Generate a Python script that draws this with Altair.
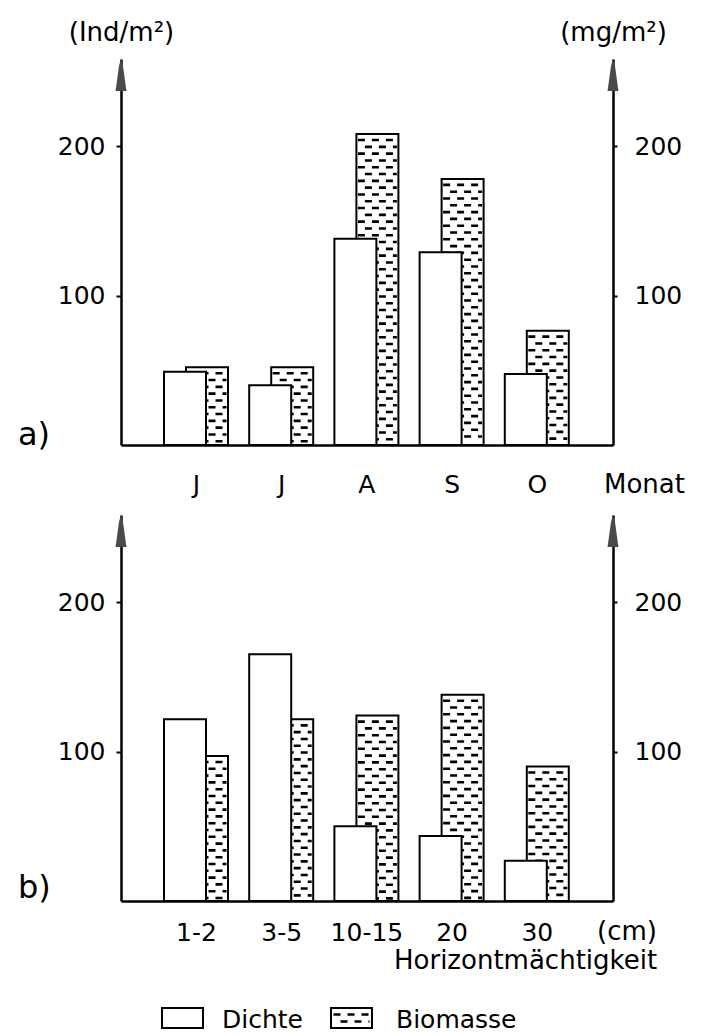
import altair as alt
import pandas as pd

# ---- data -------------------------------------------------------------
# a) by month
monate = ["Juni", "Juli", "August", "September", "Oktober"]
monat_labels = ["J", "J", "A", "S", "O"]
dichte_monat = [49, 40, 138, 129, 47.5]        # Ind/m²
biomasse_monat = [52, 52, 208, 178, 76.5]      # mg/m²

# b) by thickness of the soil horizon
horizonte = ["1-2", "3-5", "10-15", "20", "30"]
dichte_horizont = [121.5, 165, 50, 43.5, 27]
biomasse_horizont = [97, 121.5, 124, 138, 90]

y_ticks = [100, 200]

# ---- layout constants -------------------------------------------------
FONT = "DejaVu Sans"
W, H = 492, 386            # plot area of each panel (px)
Y_MAX = 258.2              # top of the value axis (arrow tip)
PX_Y = H / Y_MAX           # px per value unit
SLOT = 85.2                # px between group centres
FIRST = 75                 # px from left axis to first group centre
X_DOMAIN = [1 - FIRST / SLOT, 1 + (W - FIRST) / SLOT]
BAR_W = 42                 # px
D_SHIFT, B_SHIFT = -11, 11  # centre shift of Dichte / Biomasse bars (px)
ROW_GAP = 6.8              # px between hatch rows
ARROW = "M0,-1L0.12,-0.6L0.34,1L-0.34,1L-0.12,-0.6Z"

ONE = pd.DataFrame({"k": [0]})


def bar_frame(values, shift):
    pos = list(range(1, len(values) + 1))
    return pd.DataFrame({
        "pos": pos,
        "value": values,
        "x1": [p + (shift - BAR_W / 2) / SLOT for p in pos],
        "x2": [p + (shift + BAR_W / 2) / SLOT for p in pos],
    })


def hatch_frame(values):
    rows = []
    for p, v in enumerate(values, start=1):
        top = v * PX_Y
        k = 0
        while 6 + k * ROW_GAP < top - 2:
            depth = 6 + k * ROW_GAP
            rows.append({
                "x1": p + (B_SHIFT - BAR_W / 2 + 1.5) / SLOT,
                "x2": p + (B_SHIFT + BAR_W / 2 - 1.5) / SLOT,
                "y": v - depth / PX_Y,
                "phase": "even" if k % 2 == 0 else "odd",
            })
            k += 1
    return pd.DataFrame(rows)


def text(t, x, y, size=26, align="left"):
    return alt.Chart(ONE).mark_text(
        text=t, font=FONT, fontSize=size, align=align,
        baseline="alphabetic", color="black"
    ).encode(x=alt.value(x), y=alt.value(y))


def panel(labels, dichte, biomasse, label_pad, titles, extras):
    xscale = alt.Scale(domain=X_DOMAIN, nice=False, zero=False)
    yscale = alt.Scale(domain=[0, Y_MAX], nice=False)
    label_expr = "[" + ",".join("'%s'" % l for l in labels) + "][datum.value - 1]"
    xaxis = alt.Axis(values=list(range(1, len(labels) + 1)), labelExpr=label_expr,
                     ticks=False, tickSize=0, labelPadding=label_pad,
                     labelBaseline="alphabetic", labelFontSize=25, title=None,
                     labelFlush=False, labelOverlap=False)

    def yaxis(orient, title):
        kw = dict(orient=orient, values=y_ticks, labelFontSize=25,
                  tickSize=5 if orient == "left" else 4,
                  labelPadding=11 if orient == "left" else 17)
        if title:
            kw.update(title=title, titleAngle=0, titleAlign="center",
                      titleBaseline="alphabetic", titleX=0, titleY=-19,
                      titleFontSize=26, titleFontWeight="normal")
        else:
            kw.update(title=None)
        return alt.Axis(**kw)

    bio = alt.Chart(bar_frame(biomasse, B_SHIFT)).mark_bar(
        fill="white", stroke="black", strokeWidth=2
    ).encode(
        x=alt.X("x1:Q", scale=xscale, axis=xaxis), x2="x2:Q",
        y=alt.Y("value:Q", scale=yscale, axis=yaxis("right", titles[1])),
        y2=alt.datum(0),
    )
    hatch = alt.Chart(hatch_frame(biomasse)).mark_rule(
        color="black", strokeWidth=2.6, strokeCap="butt"
    ).encode(
        x=alt.X("x1:Q", scale=xscale, axis=xaxis), x2="x2:Q",
        y=alt.Y("y:Q", scale=yscale, axis=None),
        strokeDash=alt.StrokeDash("phase:N", legend=None, scale=alt.Scale(
            domain=["even", "odd"], range=[[7, 7], [0, 7, 7, 0]])),
    )
    dichte_bars = alt.Chart(bar_frame(dichte, D_SHIFT)).mark_bar(
        fill="white", stroke="black", strokeWidth=2
    ).encode(
        x=alt.X("x1:Q", scale=xscale, axis=xaxis), x2="x2:Q",
        y=alt.Y("value:Q", scale=yscale, axis=yaxis("left", titles[0])),
        y2=alt.datum(0),
    )
    arrows = [
        alt.Chart(ONE).mark_point(shape=ARROW, size=1024, filled=True,
                                  fill="#4a4a4a", strokeWidth=0, opacity=1)
        .encode(x=alt.value(xp), y=alt.value(16))
        for xp in (0, W)
    ]
    return alt.layer(bio, hatch, dichte_bars, *arrows, *extras).resolve_scale(
        y="independent").properties(width=W, height=H)


extras_a = [
    text("a)", -103, H, size=32),
    text("Monat", 483, H + 48),
]

legend_hatch = [
    alt.Chart(ONE).mark_rule(color="black", strokeWidth=2.6, strokeCap="butt",
                             strokeDash=[7, 7], strokeDashOffset=off)
    .encode(x=alt.value(212.5), x2=alt.value(248.5), y=alt.value(yy))
    for yy, off in ((499.5, 0), (506.5, 7))
]
extras_b = [
    text("b)", -103, H - 3, size=32),
    text("(cm)", 476, H + 39),
    text("Horizontmächtigkeit", 273, H + 68),
    alt.Chart(ONE).mark_rect(fill="white", stroke="black", strokeWidth=2)
    .encode(x=alt.value(41), x2=alt.value(82), y=alt.value(493), y2=alt.value(513)),
    text("Dichte", 101, 513, size=25),
    alt.Chart(ONE).mark_rect(fill="white", stroke="black", strokeWidth=2)
    .encode(x=alt.value(210), x2=alt.value(251), y=alt.value(493), y2=alt.value(513)),
    *legend_hatch,
    text("Biomasse", 275, 513, size=25),
]

panel_a = panel(monat_labels, dichte_monat, biomasse_monat, 47,
                ("(Ind/m²)", "(mg/m²)"), extras_a)
panel_b = panel(horizonte, dichte_horizont, biomasse_horizont, 39,
                (None, None), extras_b)

chart = alt.vconcat(panel_a, panel_b, spacing=70, bounds="flush").properties(
    padding={"left": 18, "top": 19, "right": 5, "bottom": 5},
    background="white",
).configure_view(stroke=None).configure_axis(
    labelFont=FONT, titleFont=FONT, labelColor="black", titleColor="black",
    domainColor="black", tickColor="black", domainWidth=2.5, tickWidth=2,
    grid=False,
)

chart.save("out.html", embed_options={"renderer": "svg", "actions": False})
